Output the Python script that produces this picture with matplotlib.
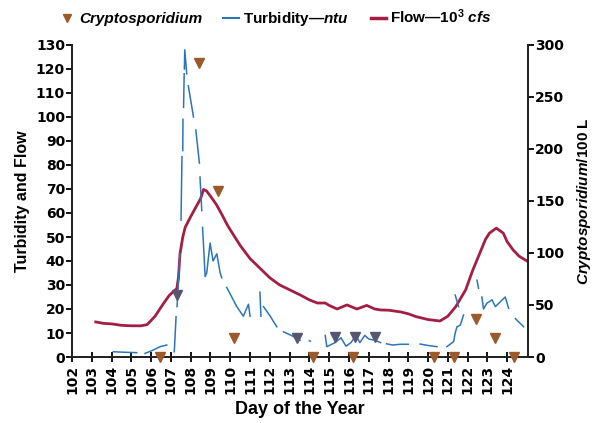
import numpy as np
import matplotlib
matplotlib.use("Agg")
import matplotlib.pyplot as plt
from matplotlib.lines import Line2D

plt.rcParams['font.family'] = ['Liberation Sans', 'DejaVu Sans']
plt.rcParams['font.weight'] = 'bold'
plt.rcParams['mathtext.fontset'] = 'custom'
plt.rcParams['mathtext.it'] = 'Liberation Sans:italic:bold'
plt.rcParams['mathtext.rm'] = 'Liberation Sans:bold'

nan = np.nan

# flow, 10^3 cfs (left axis)
flow_day = [103.2, 103.6, 104.0, 104.5, 105.0, 105.5, 105.8, 106.2, 106.6, 106.9,
            107.15, 107.3, 107.38, 107.46, 107.6, 107.72, 108.0, 108.3, 108.5, 108.65,
            108.8, 109.0, 109.3, 109.6, 109.85, 110.0, 110.5, 111.0, 111.5, 112.0,
            112.5, 113.0, 113.5, 114.0, 114.4, 114.8, 115.0, 115.4, 115.9, 116.4,
            116.9, 117.3, 117.6, 118.0, 118.6, 119.0, 119.4, 120.0, 120.6, 121.0,
            121.4, 121.9, 122.25, 122.6, 122.9, 123.1, 123.45, 123.8, 124.0, 124.3,
            124.6, 125.0]
flow_val = [14.6, 14.0, 13.8, 13.2, 13.0, 13.0, 13.5, 17, 22, 25.5,
            27.5, 28.5, 33, 43, 50, 54, 58.5, 63, 66, 69.8,
            69.2, 67, 63.5, 59, 55, 53, 46.5, 41, 37, 33,
            30, 28, 26, 23.8, 22.5, 22.5, 21.5, 20, 21.7, 20,
            21.5, 20, 19.6, 19.5, 18.8, 18, 16.8, 15.6, 15.0, 17,
            21, 28, 36, 43, 49, 51.6, 53.7, 51.6, 48, 44.6,
            42, 40]

# turbidity, ntu (left axis); nan = gap in record
turb_day = [104.09, 104.6, 105.27, nan,
            105.69, 105.9, 106.11, 106.45, 106.79, nan,
            107.17, 107.26, nan, 107.31, 107.46, nan, 107.51, 107.56, nan,
            107.6, 107.61, nan, 107.64, 107.67, nan, 107.68, 107.7, 107.8, nan,
            107.88, 108.14, nan, 108.26, 108.44, nan, 108.47, 108.56, nan,
            108.6, 108.73, 108.81, 108.98, 109.13, 109.32, 109.49, 109.57, nan,
            109.82, 110.33, 110.66, 110.92, 111.0, nan,
            111.5, 111.55, nan, 111.68, 112.02, 112.35, nan,
            112.69, 113.03, 113.37, 113.53, nan,
            114.0, 114.05, nan,
            114.8, 114.88, 115.3, 115.6, 115.85, 116.1, 116.35, 116.55, 116.8, 117.0,
            117.3, 117.6, nan,
            117.9, 118.2, 118.6, 119.0, nan,
            119.6, 120.0, 120.45, nan,
            120.95, 121.29, 121.37, 121.46, 121.63, 121.79, nan,
            121.37, 121.54, nan,
            122.47, 122.55, nan,
            122.72, 122.8, 122.97, 123.23, 123.4, 123.65, 123.9, 124.07, nan,
            124.41, 124.83]
turb_val = [2.2, 2.0, 1.8, nan,
            1.5, 2.2, 2.9, 4.3, 5.0, nan,
            2.2, 16.8, nan, 21, 43, nan, 57, 83.5, nan,
            86, 99, nan, 104, 118, nan, 120, 128, 118, nan,
            113, 100, nan, 94.6, 80.8, nan, 75, 61, nan,
            54, 33.5, 35, 47.5, 40, 43, 35, 33, nan,
            29, 21, 17, 22, 17, nan,
            27, 17, nan, 21, 17, 12.6, nan,
            10.5, 9.2, 7.8, 7.0, nan,
            6.8, 6.6, nan,
            9, 4.3, 6, 8, 4.5, 6, 9, 6, 9, 7.5,
            7, 6, nan,
            5.5, 5.0, 5.3, 5.3, nan,
            5.4, 4.8, 4.3, nan,
            4.3, 6.4, 10, 12.6, 13.3, 17.5, nan,
            25.8, 21, nan,
            32, 28.6, nan,
            25, 20, 22.4, 23.8, 21, 23, 25, 20.3, nan,
            16, 12.6]

# Cryptosporidium per 100 L (right axis)
crypto_day = [106.45, 108.4, 109.4, 110.2, 114.2, 116.2, 120.3, 121.3, 122.4, 123.4, 124.35]
crypto_val = [0, 283, 160, 18, 0, 0, 0, 0, 37, 18, 0]
crypto_grey_day = [107.3, 113.35, 115.3, 116.3, 117.3]
crypto_grey_val = [60, 18, 19, 19, 19]

days = list(range(102, 125))

blue = '#2f74b8'
red = '#a21f43'
brown = '#9a5a2c'
grey = '#565670'

fig = plt.figure(figsize=(5.92, 4.23), dpi=100)
ax = fig.add_axes([72 / 592, 1 - 357 / 423, 456 / 592, 312 / 423])
ax2 = ax.twinx()

ax.plot(turb_day, turb_val, color=blue, lw=1.1, zorder=3)
ax.plot(flow_day, flow_val, color=red, lw=2.0, zorder=2)
ax2.plot(crypto_day, crypto_val, linestyle='none', marker='v', ms=7,
         color=brown, clip_on=False, zorder=5)
ax2.plot(crypto_grey_day, crypto_grey_val, linestyle='none', marker='v', ms=7,
         color=grey, clip_on=False, zorder=5)

tick_font = dict(family='DejaVu Sans', weight='bold', size=10)

ax.set_xlim(102, 125.05)
ax.set_ylim(0, 130)
ax2.set_ylim(0, 300)
ax.set_xticks(days)
ax.set_xticklabels([str(d) for d in days], rotation=90, fontdict=tick_font)
ax.set_yticks(range(0, 131, 10))
ax2.set_yticks(range(0, 301, 50))
for lab in ax.get_yticklabels() + ax2.get_yticklabels():
    lab.set_fontproperties(tick_font)

for a in (ax, ax2):
    a.spines['top'].set_visible(False)
    for s in ('left', 'right', 'bottom'):
        a.spines[s].set_linewidth(1.3)
        a.spines[s].set_color('#222222')
ax.tick_params(axis='x', direction='inout', length=7, width=1.3, pad=2)
ax.tick_params(axis='y', direction='out', length=4, width=1.3, pad=1)
ax2.tick_params(axis='y', direction='out', length=4, width=1.3, pad=1)

ax.set_ylabel('Turbidity and Flow', fontsize=11.5, fontweight='bold', labelpad=4)
ax2.set_ylabel('$Cryptosporidium$/100 L', fontsize=11, fontweight='bold', labelpad=8)
ax.set_xlabel('Day of the Year', fontsize=13, fontweight='bold', labelpad=5)

handles = [Line2D([], [], linestyle='none', marker='v', ms=6, color=brown),
           Line2D([], [], color=blue, lw=1.5),
           Line2D([], [], color=red, lw=2.5)]
labels = ['Cryptosporidium', 'Turbidity—$ntu$', 'Flow—$10^3$ $cfs$']
leg = fig.legend(handles, labels, loc='center', bbox_to_anchor=(0.465, 0.957), ncol=3,
                 frameon=False, fontsize=11, handlelength=1.0, handletextpad=0.3,
                 columnspacing=1.4, borderaxespad=0)
for t in leg.get_texts():
    t.set_fontweight('bold')
leg.get_texts()[0].set_style('italic')

fig.savefig('out.png', dpi=100)
